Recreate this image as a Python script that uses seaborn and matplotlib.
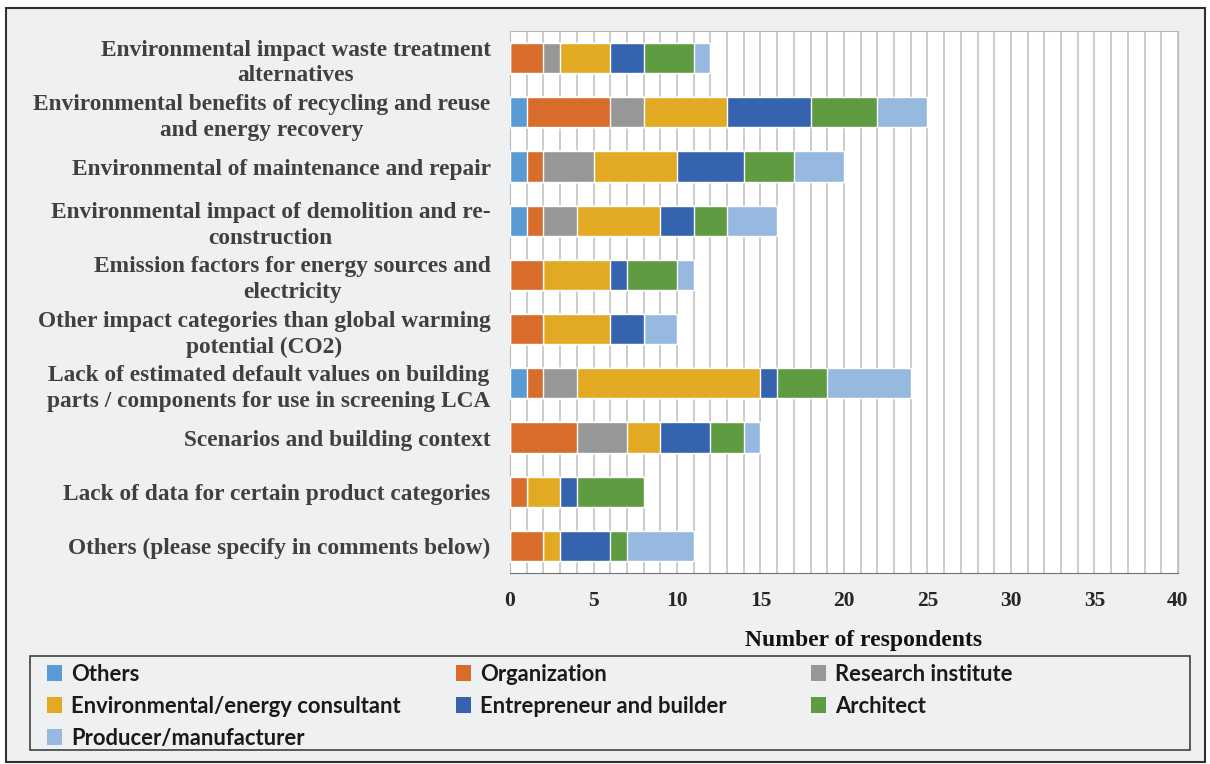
import pandas as pd
import matplotlib.pyplot as plt
from matplotlib.patches import Rectangle, Patch
from matplotlib.ticker import MultipleLocator
import seaborn as sns

sns.set_style('white')
plt.rcParams['font.family'] = ['Liberation Serif', 'DejaVu Serif']

# categories (top to bottom)
topics = [
    'Environmental impact waste treatment\nalternatives',
    'Environmental benefits of recycling and reuse\nand energy recovery',
    'Environmental of maintenance and repair',
    'Environmental impact of demolition and re-\nconstruction',
    'Emission factors for energy sources and\nelectricity',
    'Other impact categories than global warming\npotential (CO2)',
    'Lack of estimated default values on building\nparts / components for use in screening LCA',
    'Scenarios and building context',
    'Lack of data for certain product categories',
    'Others (please specify in comments below)',
]

others       = [0, 1, 1, 1, 0, 0, 1, 0, 0, 0]
organization = [2, 5, 1, 1, 2, 2, 1, 4, 1, 2]
research     = [1, 2, 3, 2, 0, 0, 2, 3, 0, 0]
consultant   = [3, 5, 5, 5, 4, 4, 11, 2, 2, 1]
entrepreneur = [2, 5, 4, 2, 1, 2, 1, 3, 1, 3]
architect    = [3, 4, 3, 2, 3, 0, 3, 2, 4, 1]
producer     = [1, 3, 3, 3, 1, 2, 5, 1, 0, 4]

groups = ['Others', 'Organization', 'Research institute', 'Environmental/energy consultant',
          'Entrepreneur and builder', 'Architect', 'Producer/manufacturer']
colors = ['#5b9bd5', '#d86c2a', '#979797', '#e2aa22', '#3563ad', '#5f9b40', '#97b9e0']

df = pd.DataFrame({'topic': topics, groups[0]: others, groups[1]: organization,
                   groups[2]: research, groups[3]: consultant, groups[4]: entrepreneur,
                   groups[5]: architect, groups[6]: producer})
cum = df[groups].cumsum(axis=1)

W, H = 1210, 764
fig = plt.figure(figsize=(W / 100, H / 100), dpi=100)
fig.patch.set_facecolor('white')
bg = '#eef0f1'
fig.patches.append(Rectangle((0.005, 0.003), 0.991, 0.987, transform=fig.transFigure,
                             facecolor=bg, edgecolor='#303030', linewidth=1.5, zorder=-10))
ax = fig.add_axes([0.4215, 0.25, 0.552, 0.7094])
ax.set_facecolor('white')

# stacked bars: draw cumulative totals, biggest first
for g, c in reversed(list(zip(groups, colors))):
    sns.barplot(x=cum[g], y=df['topic'], order=topics, orient='h', color=c,
                width=0.56, saturation=1, ax=ax, zorder=3)

ax.set_xlim(0, 40)
ax.set_ylim(9.5, -0.5)
ax.xaxis.set_major_locator(MultipleLocator(5))
ax.xaxis.set_minor_locator(MultipleLocator(1))
ax.grid(axis='x', which='both', color='#c4c4c4', linewidth=1.2, zorder=0)
ax.set_axisbelow(True)
ax.tick_params(axis='x', which='major', length=7, width=1, color='#707070',
               labelsize=15.5, labelcolor='#262626', pad=6)
ax.tick_params(axis='x', which='minor', length=4, width=1, color='#707070')
ax.tick_params(axis='y', length=0, labelsize=16.8, labelcolor='#404040', pad=14)
for lbl in ax.get_xticklabels():
    lbl.set_fontweight('bold')
for lbl in ax.get_yticklabels():
    lbl.set_fontweight('bold')
    lbl.set_multialignment('center')
    lbl.set_linespacing(1.3)
for s in ['top', 'right', 'left']:
    ax.spines[s].set_color('#b8b8b8')
ax.spines['bottom'].set_color('#707070')
ax.set_ylabel('')
ax.set_xlabel('Number of respondents', fontsize=17, fontweight='bold', color='#111111')
ax.xaxis.set_label_coords(0.53, -0.105)

# legend frame + three columns placed like the original
fig.patches.append(Rectangle((30 / W, 1 - 750 / H), 1160 / W, 94 / H, transform=fig.transFigure,
                             facecolor='none', edgecolor='#404040', linewidth=1.2, zorder=5))
cols = [[0, 3, 6], [1, 4], [2, 5]]
col_x = [40, 449, 804]
for idx, x0 in zip(cols, col_x):
    leg = fig.legend([Patch(facecolor=colors[i], edgecolor='none') for i in idx],
                     [groups[i] for i in idx], loc='upper left',
                     bbox_to_anchor=(x0 / W, 1 - 657 / H), frameon=False,
                     handlelength=0.72, handleheight=0.72, handletextpad=0.4,
                     labelspacing=0.5, borderaxespad=0, borderpad=0.3,
                     prop={'family': ['Lato', 'DejaVu Sans'], 'weight': 'bold', 'size': 15.8})
    for t in leg.get_texts():
        t.set_color('#1a1a1a')

fig.savefig('out.png', dpi=100, facecolor=fig.get_facecolor())
